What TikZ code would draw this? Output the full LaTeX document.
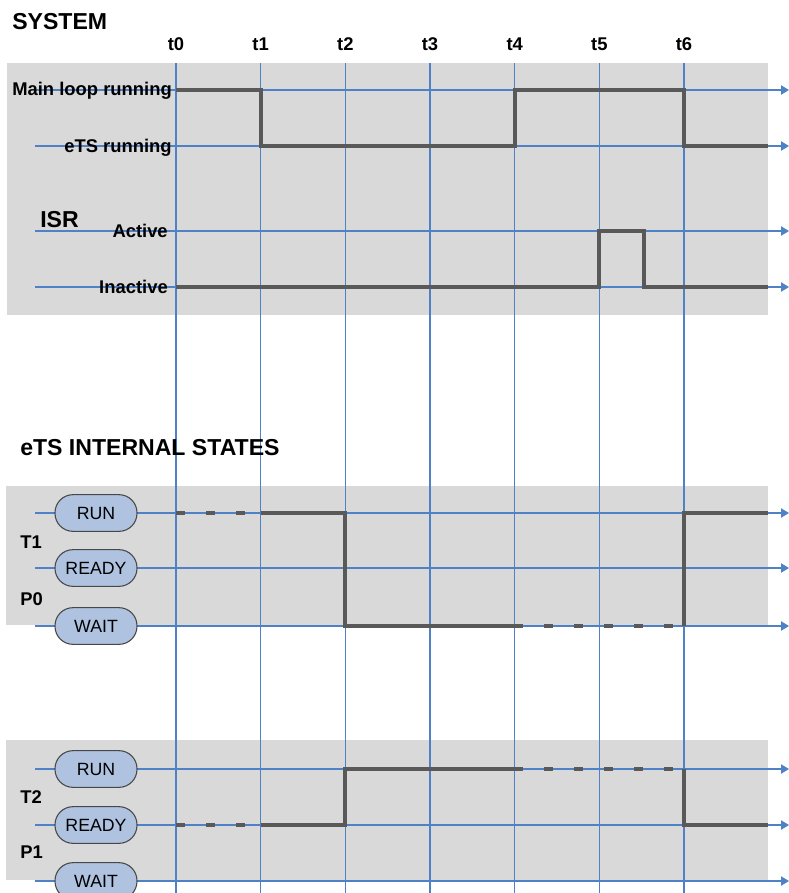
\documentclass[tikz,border=0pt]{standalone}
\usepackage{fontspec}
\setmainfont{Liberation Sans}
\usetikzlibrary{arrows.meta}
\definecolor{panelgray}{HTML}{D9D9D9}
\definecolor{gridblue}{HTML}{4F81C7}
\definecolor{wavegray}{HTML}{595959}
\definecolor{statefill}{HTML}{AFC3E0}

\begin{document}
\begin{tikzpicture}[x=0.75pt, y=-0.75pt,
  panel/.style={fill=panelgray},
  gridline/.style={gridblue, line width=0.8pt},
  levelline/.style={gridline, -{Triangle[length=6pt, width=7pt]}},
  wave/.style={wavegray, line width=3pt},
  dashwave/.style={wave, dash pattern=on 6.75pt off 15.75pt},
  statebox/.style={draw=wavegray!80!black, fill=statefill, line width=0.8pt,
    rounded corners=13.5pt, minimum width=61.5pt, minimum height=27.5pt,
    inner sep=0pt, font=\fontsize{13.3}{15}\selectfont},
  lbl/.style={inner sep=0pt, font=\bfseries\fontsize{13.8}{16}\selectfont},
  heading/.style={inner sep=0pt, anchor=base west, font=\bfseries\fontsize{17.3}{20}\selectfont}]

  \useasboundingbox (0,0) rectangle (789,893);

  % -- Grey panels --
  \fill[panel] (7,63) rectangle (768,315);
  \fill[panel] (6,486) rectangle (768,625);
  \fill[panel] (6,740) rectangle (768,880);

  % -- Level coordinates --
  \coordinate (main) at (0,90);
  \coordinate (ets) at (0,146);
  \coordinate (act) at (0,231);
  \coordinate (inact) at (0,287);
  \coordinate (runA) at (0,513);
  \coordinate (readyA) at (0,568);
  \coordinate (waitA) at (0,626);
  \coordinate (runB) at (0,769);
  \coordinate (readyB) at (0,825);
  \coordinate (waitB) at (0,881);

  % -- Time marks --
  \foreach \i in {0,...,6} {
    \node[lbl, anchor=base] (t\i) at ({176+84.67*\i},50) {t\i};
    \draw[gridline] (t\i |- 0,63) -- (t\i |- 0,893);
  }

  % -- Level lines --
  \foreach \lv in {main,ets,act,inact,runA,readyA,waitA,runB,readyB,waitB}
    \draw[levelline] ([xshift=35*0.75pt]\lv) -- ([xshift=789*0.75pt]\lv);

  % -- Headings --
  \node[heading] (system) at (12,29) {SYSTEM};
  \node[heading] (isr) at (40,227) {ISR};
  \node[heading] (internal) at (20,455) {eTS INTERNAL STATES};

  % -- System levels --
  \node[lbl, anchor=base east] (mainlbl) at (172,95) {Main loop running};
  \node[lbl, anchor=base east] (etslbl) at (172,152) {eTS running};
  \node[lbl, anchor=base east] (actlbl) at (168,237) {Active};
  \node[lbl, anchor=base east] (inactlbl) at (168,293) {Inactive};

  % -- Task labels --
  \node[lbl, anchor=base west] (tA) at (20,548) {T1};
  \node[lbl, anchor=base west] (pA) at (20,605) {P0};
  \node[lbl, anchor=base west] (tB) at (20,803) {T2};
  \node[lbl, anchor=base west] (pB) at (20,858) {P1};

  % -- State boxes --
  \node[statebox] (runboxA) at (96,0 |- runA) {RUN};
  \node[statebox] (readyboxA) at (96,0 |- readyA) {READY};
  \node[statebox] (waitboxA) at (96,0 |- waitA) {WAIT};
  \node[statebox] (runboxB) at (96,0 |- runB) {RUN};
  \node[statebox] (readyboxB) at (96,0 |- readyB) {READY};
  \node[statebox] (waitboxB) at (96,0 |- waitB) {WAIT};

  % -- Main loop / eTS --
  \draw[wave] (t0 |- main) -- (t1 |- main) -- (t1 |- ets) -- (t4 |- ets)
    -- (t4 |- main) -- (t6 |- main) -- (t6 |- ets) -- (768,146);

  % -- ISR pulse --
  \draw[wave] (t0 |- inact) -- (t5 |- inact) -- (t5 |- act) -- (644,231)
    -- (644,287) -- (768,287);

  % -- T1 --
  \draw[dashwave] (t0 |- runA) -- (t1 |- runA);
  \draw[wave] (t1 |- runA) -- (t2 |- runA) -- (t2 |- waitA) -- (523,626);
  \draw[dashwave] (544,626) -- (t6 |- waitA);
  \draw[wave] (t6 |- waitA) -- (t6 |- runA) -- (768,513);

  % -- T2 --
  \draw[dashwave] (t0 |- readyB) -- (t1 |- readyB);
  \draw[wave] (t1 |- readyB) -- (t2 |- readyB) -- (t2 |- runB) -- (523,769);
  \draw[dashwave] (544,769) -- (t6 |- runB);
  \draw[wave] (t6 |- runB) -- (t6 |- readyB) -- (768,825);

\end{tikzpicture}
\end{document}
